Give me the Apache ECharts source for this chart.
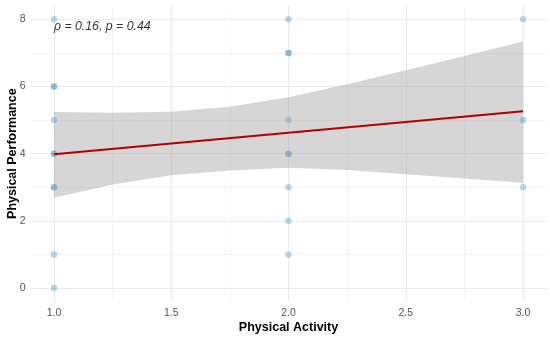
<!DOCTYPE html>
<html>
<head>
<meta charset="utf-8">
<script src="https://cdn.jsdelivr.net/npm/echarts@6/dist/echarts.min.js"></script>
<style>html,body{margin:0;padding:0;background:#fff}#c{width:550px;height:338px}</style>
</head>
<body>
<div id="c"></div>
<script>
// Observations (overlapping points repeated)
var activity =    [1,1,1,1,1,1,1,1,1,1, 2,2,2,2,2,2,2,2,2, 3,3,3];
var performance = [0,1,3,3,4,4,5,6,6,8, 1,2,3,4,4,5,7,7,8, 3,5,8];
// Fitted regression line
var fitX = [1, 3];
var fitY = [3.98, 5.26];
// Confidence band
var bandX =     [1,    1.25, 1.5,  1.75, 2,    2.25, 2.5,  2.75, 3];
var bandLower = [2.69, 3.08, 3.36, 3.50, 3.58, 3.51, 3.39, 3.26, 3.13];
var bandUpper = [5.24, 5.22, 5.25, 5.40, 5.68, 6.07, 6.48, 6.91, 7.34];
// Gridlines and tick labels
var xMajor = [1, 1.5, 2, 2.5, 3];
var xMinor = [1.25, 1.75, 2.25, 2.75];
var yMajor = [0, 2, 4, 6, 8];
var yMinor = [1, 3, 5, 7];
var annotationText = 'ρ = 0.16, p = 0.44';
var annotationPos = [1, 7.77];

var FONT = '"Liberation Sans", Arial, sans-serif';
var chart = echarts.init(document.getElementById('c'), null, {renderer: 'canvas'});

function vLine(v){ return {xAxis: v}; }
function hLine(v){ return {yAxis: v}; }

var option = {
  animation: false,
  backgroundColor: '#ffffff',
  grid: {left: 30.5, right: 3.5, top: 5.9, bottom: 36.6, containLabel: false, outerBoundsMode: 'none'},
  xAxis: {
    type: 'value', min: 0.9, max: 3.1, interval: 0.1,
    axisLine: {show: false}, axisTick: {show: false}, splitLine: {show: false},
    axisLabel: {
      margin: 6, color: '#555', fontSize: 10.5, fontFamily: FONT,
      formatter: function(v){
        var d = v * 2;
        return Math.abs(d - Math.round(d)) < 1e-6 ? (Math.round(d) / 2).toFixed(1) : '';
      }
    },
    name: 'Physical Activity', nameLocation: 'middle', nameGap: 19.5, nameMoveOverlap: false,
    nameTextStyle: {fontSize: 12.5, fontWeight: 'bold', color: '#000', fontFamily: FONT}
  },
  yAxis: {
    type: 'value', min: -0.4, max: 8.4, interval: 0.2,
    axisLine: {show: false}, axisTick: {show: false}, splitLine: {show: false},
    axisLabel: {
      margin: 5, color: '#555', fontSize: 10.5, fontFamily: FONT,
      formatter: function(v){
        var r = Math.round(v);
        return (Math.abs(v - r) < 1e-6 && r % 2 === 0) ? String(r) : '';
      }
    },
    name: 'Physical Performance', nameLocation: 'middle', nameGap: 11, nameMoveOverlap: false,
    nameTextStyle: {fontSize: 12.5, fontWeight: 'bold', color: '#000', fontFamily: FONT}
  },
  series: [
    {
      type: 'line', data: [], silent: true, z: 0,
      markLine: {
        silent: true, symbol: ['none','none'], animation: false, z: 0,
        label: {show: false},
        data: xMinor.map(vLine).concat(yMinor.map(hLine)),
        lineStyle: {color: '#f3f3f3', width: 1, type: 'solid'}
      }
    },
    {
      type: 'line', data: [], silent: true, z: 1,
      markLine: {
        silent: true, symbol: ['none','none'], animation: false, z: 1,
        label: {show: false},
        data: xMajor.map(vLine).concat(yMajor.map(hLine)),
        lineStyle: {color: '#ebebeb', width: 1, type: 'solid'}
      }
    },
    {
      type: 'scatter', z: 10,
      data: activity.map(function(x, i){ return [x, performance[i]]; }),
      symbolSize: 6.5,
      itemStyle: {color: 'rgba(58,140,200,0.45)', borderWidth: 0}
    },
    {
      type: 'custom', z: 11, silent: true,
      data: bandX.map(function(x, i){ return [x, bandLower[i], bandUpper[i]]; }),
      encode: {x: 0, y: [1, 2]},
      renderItem: function(params, api){
        if (params.dataIndex !== 0) return;
        var pts = [];
        for (var i = 0; i < bandX.length; i++) pts.push(api.coord([bandX[i], bandUpper[i]]));
        for (var j = bandX.length - 1; j >= 0; j--) pts.push(api.coord([bandX[j], bandLower[j]]));
        return {type: 'polygon', shape: {points: pts}, style: {fill: 'rgba(153,153,153,0.4)'}};
      }
    },
    {
      type: 'line', z: 12, silent: true,
      data: fitX.map(function(x, i){ return [x, fitY[i]]; }),
      symbol: 'none',
      lineStyle: {color: '#b20000', width: 2}
    },
    {
      type: 'scatter', z: 13, silent: true,
      data: [annotationPos], symbolSize: 0,
      label: {
        show: true, position: 'right', distance: 0,
        formatter: annotationText,
        fontStyle: 'italic', fontSize: 12.3, color: '#000', fontFamily: FONT
      }
    }
  ]
};
chart.setOption(option);
</script>
</body>
</html>
